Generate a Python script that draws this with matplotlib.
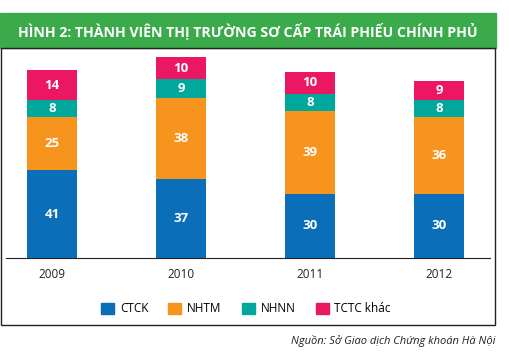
import matplotlib.pyplot as plt
from matplotlib.patches import Rectangle
import numpy as np

years = ["2009", "2010", "2011", "2012"]
ctck = [41, 37, 30, 30]
nhtm = [25, 38, 39, 36]
nhnn = [8, 9, 8, 8]
tctc = [14, 10, 10, 9]
series_names = ["CTCK", "NHTM", "NHNN", "TCTC khác"]
colors = ["#0a6eb8", "#f7941e", "#00a89c", "#ec1763"]

plt.rcParams['font.family'] = ['Open Sans', 'DejaVu Sans']

W, H = 510, 359
fig = plt.figure(figsize=(W / 100, H / 100), dpi=100)

def fx(px):
    return px / W

def fy(py):
    return 1 - py / H

# title band and frame
fig.patches.append(Rectangle((fx(0), fy(48)), fx(496), (48 - 13) / H,
                             transform=fig.transFigure, color="#3aaa4a", zorder=0))
fig.patches.append(Rectangle((fx(1), fy(325)), fx(494), (325 - 48) / H,
                             transform=fig.transFigure, fill=False,
                             edgecolor="#222222", linewidth=1.0, zorder=1))
fig.text(fx(248), fy(31), "HÌNH 2: THÀNH VIÊN THỊ TRƯỜNG SƠ CẤP TRÁI PHIẾU CHÍNH PHỦ",
         color="white", fontsize=10.2, fontweight="bold", ha="center", va="center")

ax = fig.add_axes([fx(6), fy(258), fx(484), (258 - 49) / H])
x = np.arange(len(years))
width = 0.388
bottom = np.zeros(len(years))
for vals, c in zip([ctck, nhtm, nhnn, tctc], colors):
    ax.bar(x, vals, width, bottom=bottom, color=c, zorder=2)
    for xi, b, v in zip(x, bottom, vals):
        ax.text(xi, b + v / 2, str(v), color="white", fontsize=9.5,
                fontweight="bold", ha="center", va="center", zorder=3)
    bottom += vals

ax.set_xlim(-0.357, 3.395)
ax.set_ylim(0, 97.9)
ax.set_yticks([])
ax.set_xticks(x)
ax.set_xticklabels(years, fontsize=8.5, color="#222222")
ax.tick_params(axis="x", length=0, pad=7)
for s in ["top", "right", "left"]:
    ax.spines[s].set_visible(False)
ax.spines["bottom"].set_color("#222222")
ax.patch.set_visible(False)

handles = [Rectangle((0, 0), 1, 1, color=c) for c in colors]
fig.legend(handles, series_names, loc="center", bbox_to_anchor=(fx(246), fy(309)),
           ncol=4, frameon=False, fontsize=8.5, handlelength=1.1, handleheight=1.1,
           columnspacing=1.7, handletextpad=0.5)

fig.text(fx(495), fy(341), "Nguồn: Sở Giao dịch Chứng khoán Hà Nội",
         fontsize=8, style="italic", ha="right", va="center", color="#222222")

fig.savefig("out.png", dpi=100)
